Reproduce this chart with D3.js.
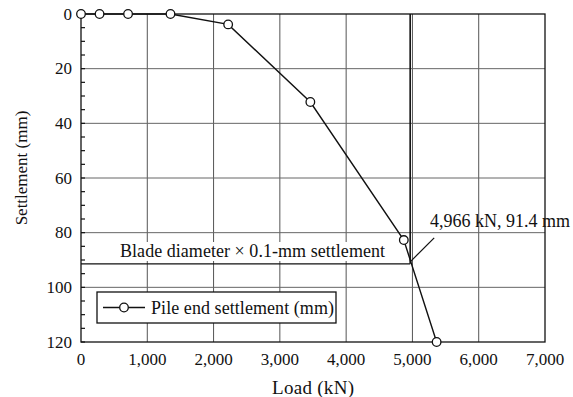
<!DOCTYPE html>
<html><head><meta charset="utf-8">
<script src="https://cdn.jsdelivr.net/npm/d3@7"></script>
<style>body{margin:0;background:#fff}svg{display:block}text{font-family:"Liberation Serif","Times New Roman",serif;fill:#111}</style>
</head><body><svg id="c" width="573" height="397"></svg>
<script>
const loads = [0, 280, 710, 1350, 2220, 3460, 4870, 5365];
const settlements = [0, 0, 0, 0, 3.8, 32.2, 82.7, 120];
const xTicks = [0, 1000, 2000, 3000, 4000, 5000, 6000, 7000];
const yTicks = [0, 20, 40, 60, 80, 100, 120];
const yMinor = d3.range(0, 121, 5);
const critLoad = 4966, critSettle = 91.4;
const seriesName = "Pile end settlement (mm)";
const critLabel = "4,966 kN, 91.4 mm";
const blLabel = "Blade diameter \u00d7 0.1-mm settlement";

const svg = d3.select("#c");
const L = 81, R = 545, T = 14, B = 342;
const x = d3.scaleLinear().domain([0, 7000]).range([L, R]);
const y = d3.scaleLinear().domain([0, 120]).range([T, B]);
const fmt = d3.format(",");

function fit(sel, target) {
  const n = sel.text().length;
  const w = sel.node().getComputedTextLength();
  if (w < target && n > 1) sel.style("letter-spacing", ((target - w) / (n - 1)) + "px");
  return sel;
}

// grid
svg.append("g").selectAll("line").data(xTicks.slice(1, -1)).join("line")
  .attr("x1", d => x(d)).attr("x2", d => x(d)).attr("y1", T).attr("y2", B)
  .attr("stroke", "#555").attr("stroke-width", 1);
svg.append("g").selectAll("line").data(yTicks.slice(1, -1)).join("line")
  .attr("x1", L).attr("x2", R).attr("y1", d => y(d)).attr("y2", d => y(d))
  .attr("stroke", "#666").attr("stroke-width", 1);

// frame
svg.append("rect").attr("x", L).attr("y", T).attr("width", R - L).attr("height", B - T)
  .attr("fill", "none").attr("stroke", "#111").attr("stroke-width", 1.3);

// y minor ticks inside
svg.append("g").selectAll("line").data(yMinor).join("line")
  .attr("x1", L).attr("x2", L + 4).attr("y1", d => y(d)).attr("y2", d => y(d))
  .attr("stroke", "#111").attr("stroke-width", 1.2);

// tick labels
svg.append("g").selectAll("text").data(yTicks).join("text")
  .attr("x", 72).attr("y", d => y(d)).attr("dy", "0.34em").attr("text-anchor", "end")
  .attr("font-size", 17).text(d => d);
svg.append("g").selectAll("text").data(xTicks).join("text")
  .attr("x", d => x(d)).attr("y", 365).attr("text-anchor", "middle")
  .attr("font-size", 17).text(d => fmt(d));

// axis titles
fit(svg.append("text").attr("x", 272).attr("y", 394)
  .attr("font-size", 19).text("Load (kN)"), 82);
svg.append("text").attr("transform", `translate(27,${(T + B) / 2 - 10}) rotate(-90)`)
  .attr("text-anchor", "middle").attr("font-size", 17).text("Settlement (mm)");

// critical lines
svg.append("line").attr("x1", x(0)).attr("x2", x(critLoad)).attr("y1", y(critSettle)).attr("y2", y(critSettle))
  .attr("stroke", "#111").attr("stroke-width", 1.4);
svg.append("line").attr("x1", x(critLoad)).attr("x2", x(critLoad)).attr("y1", y(0)).attr("y2", y(critSettle))
  .attr("stroke", "#111").attr("stroke-width", 1.6);
// leader
svg.append("line").attr("x1", x(critLoad)).attr("y1", y(critSettle) - 2)
  .attr("x2", x(critLoad) + 24).attr("y2", y(critSettle) - 26)
  .attr("stroke", "#111").attr("stroke-width", 1.2);

// series
const pts = loads.map((d, i) => [d, settlements[i]]);
svg.append("path").attr("d", d3.line().x(d => x(d[0])).y(d => y(d[1]))(pts))
  .attr("fill", "none").attr("stroke", "#111").attr("stroke-width", 1.4);
svg.append("g").selectAll("circle").data(pts).join("circle")
  .attr("cx", d => x(d[0])).attr("cy", d => y(d[1])).attr("r", 4.3)
  .attr("fill", "#fff").attr("stroke", "#111").attr("stroke-width", 1.3);

// annotations
fit(svg.append("text").attr("x", 430).attr("y", 227).attr("font-size", 18).text(critLabel), 140);
svg.append("rect").attr("x", 116).attr("y", 242).attr("height", 19).attr("width", 272).attr("fill", "#fff");
fit(svg.append("text").attr("x", 120).attr("y", 257).attr("font-size", 18).text(blLabel), 265);

// legend
svg.append("rect").attr("x", 97).attr("y", 292).attr("width", 239).attr("height", 31)
  .attr("fill", "#fff").attr("stroke", "#111").attr("stroke-width", 1.3);
svg.append("line").attr("x1", 103).attr("x2", 145).attr("y1", 307.5).attr("y2", 307.5)
  .attr("stroke", "#111").attr("stroke-width", 1.4);
svg.append("circle").attr("cx", 124).attr("cy", 307.5).attr("r", 4.3)
  .attr("fill", "#fff").attr("stroke", "#111").attr("stroke-width", 1.3);
fit(svg.append("text").attr("x", 151).attr("y", 314).attr("font-size", 18).text(seriesName), 183);
</script></body></html>
